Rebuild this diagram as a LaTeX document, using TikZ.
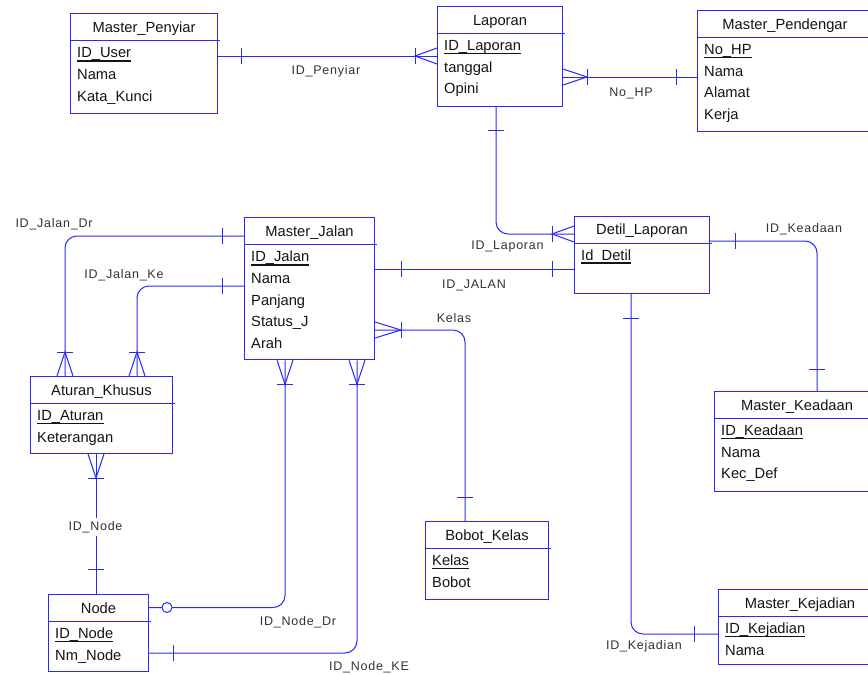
\documentclass[tikz,border=0pt]{standalone}
\usepackage{fontspec}
\setmainfont{Liberation Sans}
\newfontfamily\relfont[LetterSpace=6]{Liberation Sans}
\usetikzlibrary{decorations.markings}

\definecolor{erblue}{RGB}{40,40,255}
\definecolor{ertext}{RGB}{20,20,20}
\definecolor{erlabel}{RGB}{50,50,50}

\tikzset{
  erline/.style={draw=erblue, line width=1pt},
  markline/.style={erline, sharp corners},
  entbox/.style={erline, rectangle, inner sep=0pt, fill=white},
  enttext/.style={inner sep=0pt, text=ertext, font=\fontsize{14.7}{17}\selectfont},
  reltext/.style={inner sep=0pt, text=erlabel, font=\relfont\fontsize{12.5}{14}\selectfont, anchor=base},
  link/.style={erline, rounded corners=12pt},
  % cardinality marks, measured along the connector from its start or its end
  one start/.style={postaction={decorate, decoration={markings,
      mark=at position #1pt with {\draw[markline] (0,-8)--(0,8);}}}},
  one end/.style={postaction={decorate, decoration={markings,
      mark=at position -#1pt with {\draw[markline] (0,-8)--(0,8);}}}},
  many start/.style={postaction={decorate, decoration={markings,
      mark=at position #1pt with {\draw[markline] (-#1,-8)--(0,0)--(-#1,8); \draw[markline] (0,-8)--(0,8);}}}},
  many end/.style={postaction={decorate, decoration={markings,
      mark=at position -#1pt with {\draw[markline] (#1,-8)--(0,0)--(#1,8); \draw[markline] (0,-8)--(0,8);}}}},
  zero end/.style={postaction={decorate, decoration={markings,
      mark=at position -#1pt with {\draw[markline, fill=white] (0,0) circle[radius=5pt];}}}},
}

% entity table: name, left, top, width, height, title, key attribute, other attributes
\newcommand\erbox[8]{%
  \node[entbox, minimum width=#4pt, minimum height=#5pt, anchor=north west] (#1) at (#2,#3) {};
  \draw[erline] ([yshift=-27.5pt]#1.north west) -- ([yshift=-27.5pt, xshift=1.5pt]#1.north east);
  \node[enttext, anchor=base] (#1-title) at ([yshift=-19pt]#1.north) {#6};
  \node[enttext, anchor=base west] (#1-key) at ([xshift=7pt, yshift=-44.5pt]#1.north west) {#7};
  \draw[ertext, line width=1.7pt] ([yshift=-3pt]#1-key.base west) -- ([yshift=-3pt]#1-key.base east);
  \ifx\relax#8\relax\else
    \foreach \attr [count=\i] in {#8} {
      \node[enttext, anchor=base west] at ([xshift=7pt, yshift={-44.5pt-21.7pt*\i}]#1.north west) {\attr};
    }
  \fi
}

\begin{document}
\begin{tikzpicture}[x=1pt, y=-1pt]
  \useasboundingbox (0,0) rectangle (868,675);
  \fill[white] (0,0) rectangle (868,675);
  \clip (0,0) rectangle (868,675);

  % entities
  \erbox{pen}{70}{13.3}{147}{99.3}{Master\_Penyiar}{ID\_User}{Nama,Kata\_Kunci}
  \erbox{lap}{437}{6}{125}{100}{Laporan}{ID\_Laporan}{tanggal,Opini}
  \erbox{pend}{697}{10}{175}{121}{Master\_Pendengar}{No\_HP}{Nama,Alamat,Kerja}
  \erbox{jal}{244}{217.3}{130}{142}{Master\_Jalan}{ID\_Jalan}{Nama,Panjang,Status\_J,Arah}
  \erbox{det}{574}{215.7}{135}{77.3}{Detil\_Laporan}{Id\_Detil}{}
  \erbox{atr}{30}{376}{142}{77}{Aturan\_Khusus}{ID\_Aturan}{Keterangan}
  \erbox{nd}{48}{594}{100}{77}{Node}{ID\_Node}{Nm\_Node}
  \erbox{bob}{425}{521}{123}{78}{Bobot\_Kelas}{Kelas}{Bobot}
  \erbox{kea}{714}{391}{165}{100}{Master\_Keadaan}{ID\_Keadaan}{Nama,Kec\_Def}
  \erbox{kej}{718}{589}{163}{75}{Master\_Kejadian}{ID\_Kejadian}{Nama}

  % relationships
  \draw[link, one start=23, many end=22] (pen.east |- 0,56) -- (lap.west |- 0,56);
  \node[reltext] (r-penyiar) at (326,74.5) {ID\_Penyiar};

  \draw[link, many start=24, one end=21] (lap.east |- 0,77) -- (pend.west |- 0,77);
  \node[reltext] (r-nohp) at (631,96) {No\_HP};

  \draw[link, one start=23, many end=22] (496,0 |- lap.south) -- (496,234) -- (det.west |- 0,234);
  \node[reltext] (r-laporan) at (507.5,249.5) {ID\_Laporan};

  \draw[link, one start=26, one end=22] (jal.east |- 0,269) -- (det.west |- 0,269);
  \node[reltext] (r-jalan) at (474,288.5) {ID\_JALAN};

  \draw[link, many start=26, one end=24] (jal.east |- 0,330) -- (465,330) -- (465,0 |- bob.north);
  \node[reltext] (r-kelas) at (454,322.8) {Kelas};

  \draw[link, one start=25, one end=22] (det.east |- 0,241) -- (817,241) -- (817,0 |- kea.north);
  \node[reltext] (r-keadaan) at (804,232.8) {ID\_Keadaan};

  \draw[link, one start=24, one end=24] (631,0 |- det.south) -- (631,634) -- (kej.west |- 0,634);
  \node[reltext] (r-kejadian) at (644,649) {ID\_Kejadian};

  \draw[link, one start=22, many end=24] (jal.west |- 0,236) -- (65,236) -- (65,0 |- atr.north);
  \node[reltext] (r-jalandr) at (54,227.8) {ID\_Jalan\_Dr};

  \draw[link, one start=22, many end=24] (jal.west |- 0,286) -- (137,286) -- (137,0 |- atr.north);
  \node[reltext] (r-jalanke) at (124,278.8) {ID\_Jalan\_Ke};

  \draw[link, many start=24, zero end=18] (285,0 |- jal.south) -- (285,607.5) -- (nd.east |- 0,607.5);
  \node[reltext] (r-nodedr) at (298,625.2) {ID\_Node\_Dr};

  \draw[link, many start=24, one end=24] (357,0 |- jal.south) -- (357,653) -- (nd.east |- 0,653);
  \node[reltext] (r-nodeke) at (369,670.2) {ID\_Node\_KE};

  \draw[link, many start=24, one end=25] (96,0 |- atr.south) -- (96,0 |- nd.north);
  \node[reltext, fill=white, inner ysep=3pt, inner xsep=1pt] (r-node) at (95.5,530.2) {ID\_Node};
\end{tikzpicture}
\end{document}
